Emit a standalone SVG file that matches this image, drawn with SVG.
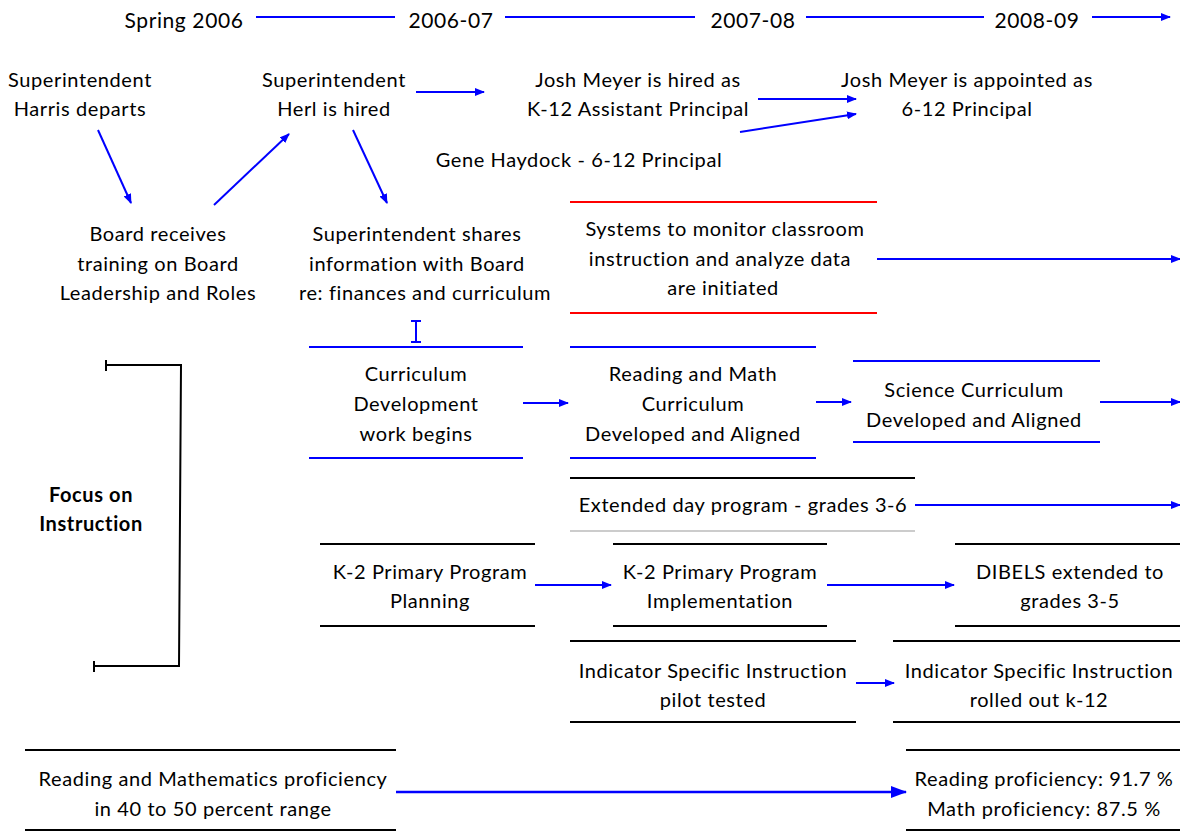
<svg xmlns="http://www.w3.org/2000/svg" width="1180" height="832" viewBox="0 0 1180 832">
  <style>
    text { font-family: Lato, "Open Sans", "Liberation Sans", sans-serif; font-size: 20px; letter-spacing: 0.6px; fill: #000; text-anchor: middle; }
    .year { font-size: 21px; }
    .bold { font-weight: bold; }
    .blue { stroke: #0000ff; stroke-width: 2; fill: none; }
    .red { stroke: #ff0000; stroke-width: 2; fill: none; }
    .black { stroke: #000; stroke-width: 2; fill: none; }
    .faint { stroke: #bbb; stroke-width: 1.5; fill: none; }
    .arrow { stroke: #0000ff; stroke-width: 2; fill: none; marker-end: url(#head); }
    .arrowbig { stroke: #0000ff; stroke-width: 2.5; fill: none; marker-end: url(#headbig); }
  </style>
  <defs>
    <marker id="head" markerWidth="10" markerHeight="8" refX="9" refY="4" orient="auto" markerUnits="userSpaceOnUse">
      <path d="M0,0 L10,4 L0,8 z" fill="#0000ff"/>
    </marker>
    <marker id="headbig" markerWidth="16" markerHeight="12" refX="15" refY="6" orient="auto" markerUnits="userSpaceOnUse">
      <path d="M0,0 L16,6 L0,12 z" fill="#0000ff"/>
    </marker>
  </defs>

  <!-- timeline header -->
  <g id="timeline">
    <text class="year" x="184" y="28">Spring 2006</text>
    <text class="year" x="451" y="28">2006-07</text>
    <text class="year" x="753" y="28">2007-08</text>
    <text class="year" x="1037" y="28">2008-09</text>
  </g>

  <g id="harris-departs">
    <text x="80" y="87">Superintendent</text>
    <text x="80" y="116">Harris departs</text>
  </g>
  <g id="herl-hired">
    <text x="334" y="87">Superintendent</text>
    <text x="334" y="116">Herl is hired</text>
  </g>
  <g id="meyer-hired">
    <text x="638" y="87">Josh Meyer is hired as</text>
    <text x="638" y="116">K-12 Assistant Principal</text>
  </g>
  <g id="meyer-appointed">
    <text x="967" y="87">Josh Meyer is appointed as</text>
    <text x="967" y="116">6-12 Principal</text>
  </g>
  <g id="haydock">
    <text x="579" y="167">Gene Haydock - 6-12 Principal</text>
  </g>
  <g id="board-training">
    <text x="158" y="241">Board receives</text>
    <text x="158" y="271">training on Board</text>
    <text x="158" y="300">Leadership and Roles</text>
  </g>
  <g id="superintendent-shares">
    <text x="417" y="241">Superintendent shares</text>
    <text x="417" y="271">information with Board</text>
    <text x="425" y="300">re: finances and curriculum</text>
  </g>

  <g id="monitor-systems">
    <line class="red" x1="570" y1="202" x2="877" y2="202"/>
    <line class="red" x1="570" y1="313" x2="877" y2="313"/>
    <text x="725" y="236">Systems to monitor classroom</text>
    <text x="720" y="266">instruction and analyze data</text>
    <text x="723" y="295">are initiated</text>
  </g>

  <g id="curriculum-dev">
    <line class="blue" x1="309" y1="347" x2="523" y2="347"/>
    <line class="blue" x1="309" y1="458" x2="523" y2="458"/>
    <text x="416" y="381">Curriculum</text>
    <text x="416" y="411">Development</text>
    <text x="416" y="441">work begins</text>
  </g>
  <g id="reading-math">
    <line class="blue" x1="570" y1="347" x2="816" y2="347"/>
    <line class="blue" x1="570" y1="458" x2="816" y2="458"/>
    <text x="693" y="381">Reading and Math</text>
    <text x="693" y="411">Curriculum</text>
    <text x="693" y="441">Developed and Aligned</text>
  </g>
  <g id="science">
    <line class="blue" x1="853" y1="361" x2="1100" y2="361"/>
    <line class="blue" x1="853" y1="442" x2="1100" y2="442"/>
    <text x="974" y="397">Science Curriculum</text>
    <text x="974" y="427">Developed and Aligned</text>
  </g>

  <g id="extended-day">
    <line class="black" x1="570" y1="478" x2="915" y2="478"/>
    <line class="faint" x1="570" y1="531" x2="915" y2="531"/>
    <text x="743" y="512">Extended day program - grades 3-6</text>
  </g>

  <g id="k2-planning">
    <line class="black" x1="320" y1="544" x2="535" y2="544"/>
    <line class="black" x1="320" y1="626" x2="535" y2="626"/>
    <text x="430" y="579">K-2 Primary Program</text>
    <text x="430" y="608">Planning</text>
  </g>
  <g id="k2-implementation">
    <line class="black" x1="613" y1="544" x2="827" y2="544"/>
    <line class="black" x1="613" y1="626" x2="827" y2="626"/>
    <text x="720" y="579">K-2 Primary Program</text>
    <text x="720" y="608">Implementation</text>
  </g>
  <g id="dibels">
    <line class="black" x1="955" y1="544" x2="1180" y2="544"/>
    <line class="black" x1="955" y1="626" x2="1180" y2="626"/>
    <text x="1070" y="579">DIBELS extended to</text>
    <text x="1070" y="608">grades 3-5</text>
  </g>

  <g id="isi-pilot">
    <line class="black" x1="570" y1="641" x2="856" y2="641"/>
    <line class="black" x1="570" y1="722" x2="856" y2="722"/>
    <text x="713" y="678">Indicator Specific Instruction</text>
    <text x="713" y="707">pilot tested</text>
  </g>
  <g id="isi-rollout">
    <line class="black" x1="893" y1="641" x2="1180" y2="641"/>
    <line class="black" x1="893" y1="722" x2="1180" y2="722"/>
    <text x="1039" y="678">Indicator Specific Instruction</text>
    <text x="1039" y="707">rolled out k-12</text>
  </g>

  <g id="proficiency-before">
    <line class="black" x1="25" y1="750" x2="396" y2="750"/>
    <line class="black" x1="25" y1="830" x2="396" y2="830"/>
    <text x="213" y="786">Reading and Mathematics proficiency</text>
    <text x="213" y="816">in 40 to 50 percent range</text>
  </g>
  <g id="proficiency-after">
    <line class="black" x1="906" y1="750" x2="1180" y2="750"/>
    <line class="black" x1="906" y1="830" x2="1180" y2="830"/>
    <text x="1044" y="786">Reading proficiency: 91.7 %</text>
    <text x="1044" y="816">Math proficiency: 87.5 %</text>
  </g>

  <g id="focus-on-instruction">
    <path class="black" d="M106,365 L181,365 L179,666 L94,666"/>
    <line class="black" x1="106" y1="360" x2="106" y2="371"/>
    <line class="black" x1="94" y1="661" x2="94" y2="672"/>
    <text class="bold" x="91" y="502">Focus on</text>
    <text class="bold" x="91" y="531">Instruction</text>
  </g>

  <!-- connectors -->
  <g id="connectors">
    <line class="blue" x1="256" y1="17" x2="395" y2="17"/>
    <line class="blue" x1="505" y1="17" x2="695" y2="17"/>
    <line class="blue" x1="806" y1="17" x2="984" y2="17"/>
    <line class="arrow" x1="1092" y1="17" x2="1170" y2="17"/>

    <line class="arrow" x1="98" y1="130" x2="131" y2="203"/>
    <line class="arrow" x1="214" y1="205" x2="289" y2="134"/>
    <line class="arrow" x1="353" y1="130" x2="387" y2="203"/>
    <line class="arrow" x1="416" y1="92" x2="484" y2="92"/>
    <line class="arrow" x1="758" y1="99" x2="856" y2="99"/>
    <line class="arrow" x1="740" y1="132" x2="856" y2="114"/>

    <line class="arrow" x1="877" y1="259" x2="1180" y2="259"/>

    <path class="blue" d="M411,321 L421,321 M416,321 L416,342 M411,342 L421,342"/>
    <line class="arrow" x1="523" y1="403" x2="568" y2="403"/>
    <line class="arrow" x1="816" y1="402" x2="851" y2="402"/>
    <line class="arrow" x1="1100" y1="402" x2="1180" y2="402"/>
    <line class="arrow" x1="915" y1="505" x2="1180" y2="505"/>
    <line class="arrow" x1="535" y1="585" x2="611" y2="585"/>
    <line class="arrow" x1="827" y1="585" x2="954" y2="585"/>
    <line class="arrow" x1="856" y1="683" x2="894" y2="683"/>
    <line class="arrowbig" x1="396" y1="792" x2="906" y2="792"/>
  </g>
</svg>
